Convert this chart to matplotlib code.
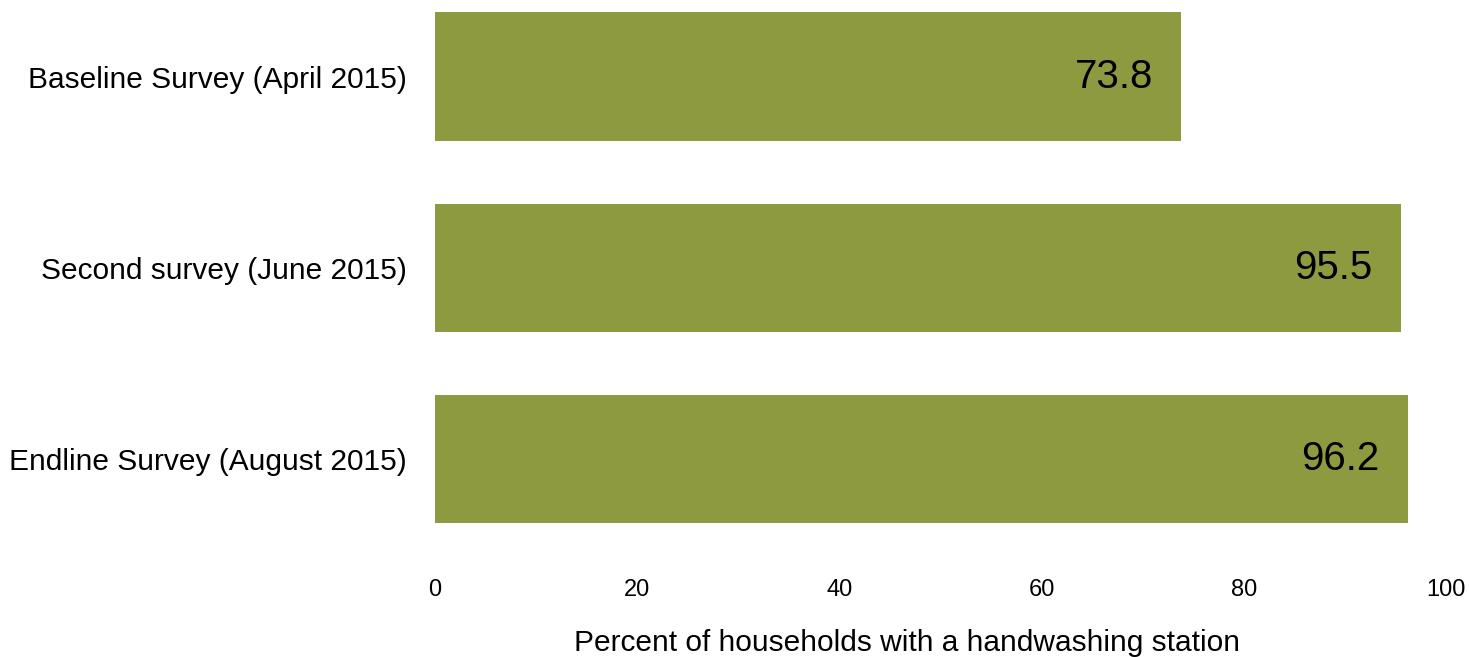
import matplotlib
matplotlib.use("Agg")
import matplotlib.pyplot as plt

categories = ["Baseline Survey (April 2015)", "Second survey (June 2015)", "Endline Survey (August 2015)"]
values = [73.8, 95.5, 96.2]
xticks = [0, 20, 40, 60, 80, 100]
xlabel = "Percent of households with a handwashing station"

plt.rcParams['font.family'] = ['Liberation Sans', 'DejaVu Sans']

fig = plt.figure(figsize=(14.69, 6.57), dpi=100)
ax = fig.add_axes([435/1469, (657-555)/657, (1446-435)/1469, 555/657])

ypos = list(range(len(categories)))
bars = ax.barh(ypos, values, height=0.67, color="#8E9A3F")
for b, v in zip(bars, values):
    ax.text(b.get_width() - 2.8, b.get_y() + b.get_height()/2, f"{v:.1f}",
            ha="right", va="center", fontsize=29, color="black")

ax.set_xlim(0, 100)
ax.set_ylim(2.5, -0.4)
ax.set_yticks(ypos)
ax.set_yticklabels(categories, fontsize=21.5)
ax.set_xticks(xticks)
ax.set_xticklabels([str(t) for t in xticks], fontsize=17)
ax.tick_params(axis="both", length=0)
ax.tick_params(axis="x", pad=17)
ax.tick_params(axis="y", pad=20)
ax.set_xlabel(xlabel, fontsize=21.5)
ax.xaxis.set_label_coords(0.467, -0.134)
for s in ax.spines.values():
    s.set_visible(False)

fig.savefig("out.png", dpi=100)
